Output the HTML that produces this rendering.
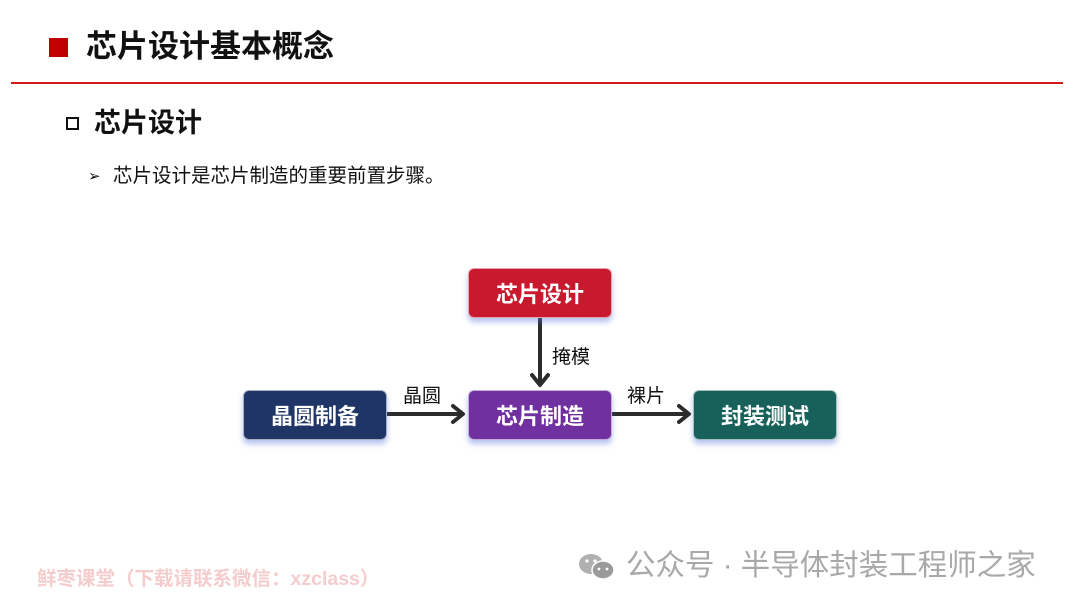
<!DOCTYPE html>
<html><head><meta charset="utf-8"><style>
*{margin:0;padding:0;box-sizing:border-box}
body{width:1080px;height:608px;background:#fff;position:relative;overflow:hidden;font-family:"Liberation Sans","Noto Sans CJK SC",sans-serif}
.a{position:absolute;white-space:nowrap}
.box{position:absolute;width:144px;height:50px;border-radius:6px;color:#fff;font-weight:bold;font-size:22px;display:flex;align-items:center;justify-content:center;box-shadow:0 4px 6px rgba(90,120,220,0.45);border:1px solid rgba(255,255,255,0.6)}
.lbl{position:absolute;font-size:19px;color:#111}
</style></head><body>
<div class="a" style="left:49px;top:38px;width:19px;height:19px;background:#c00000"></div>
<div class="a" style="left:86px;top:27px;font-size:31px;font-weight:bold;color:#111;line-height:40px">芯片设计基本概念</div>
<div class="a" style="left:11px;top:82px;width:1052px;height:2px;background:#d21a1a"></div>
<div class="a" style="left:66px;top:117px;width:13px;height:13px;border:2.5px solid #111"></div>
<div class="a" style="left:94px;top:106px;font-size:27px;font-weight:bold;color:#111;line-height:34px">芯片设计</div>
<div class="a" style="left:88px;top:166px;font-size:15px;color:#111;line-height:22px">➢</div>
<div class="a" style="left:113px;top:163px;font-size:19.5px;color:#111;line-height:26px">芯片设计是芯片制造的重要前置步骤。</div>

<svg class="a" style="left:0;top:0" width="1080" height="608">
<g stroke="#2b2b2b" stroke-width="4" fill="none" stroke-linecap="round" stroke-linejoin="round">
<line x1="540" y1="319" x2="540" y2="384"/><polyline points="532,375 540,385 548,375"/>
<line x1="386" y1="414" x2="462" y2="414"/><polyline points="453,406 463,414 453,422"/>
<line x1="612" y1="414" x2="688" y2="414"/><polyline points="679,406 689,414 679,422"/>
</g>
</svg>
<div class="box" style="left:468px;top:268px;background:#c8192e">芯片设计</div>
<div class="box" style="left:243px;top:390px;background:#1f3566">晶圆制备</div>
<div class="box" style="left:468px;top:390px;background:#7030a0">芯片制造</div>
<div class="box" style="left:693px;top:390px;background:#17615a">封装测试</div>
<div class="lbl" style="left:552px;top:342px">掩模</div>
<div class="lbl" style="left:403px;top:381px">晶圆</div>
<div class="lbl" style="left:627px;top:381px">裸片</div>

<div class="a" style="left:37px;top:562px;font-size:19.5px;font-weight:bold;color:#f5cccc">鲜枣课堂（下载请联系微信：xzclass）</div>
<svg class="a" style="left:577px;top:550px" width="42" height="34">
<ellipse cx="14" cy="14" rx="12" ry="10" fill="#b0b0b0"/>
<ellipse cx="26" cy="20" rx="11" ry="9" fill="#9a9a9a" stroke="#fff" stroke-width="1.5"/>
<circle cx="10" cy="11" r="1.6" fill="#fff"/><circle cx="18" cy="11" r="1.6" fill="#fff"/>
<circle cx="22" cy="19" r="1.4" fill="#fff"/><circle cx="30" cy="19" r="1.4" fill="#fff"/>
</svg>
<div class="a" style="left:626px;top:547px;font-size:29.5px;color:#a8a8a8;line-height:38px">公众号 · 半导体封装工程师之家</div>
</body></html>
